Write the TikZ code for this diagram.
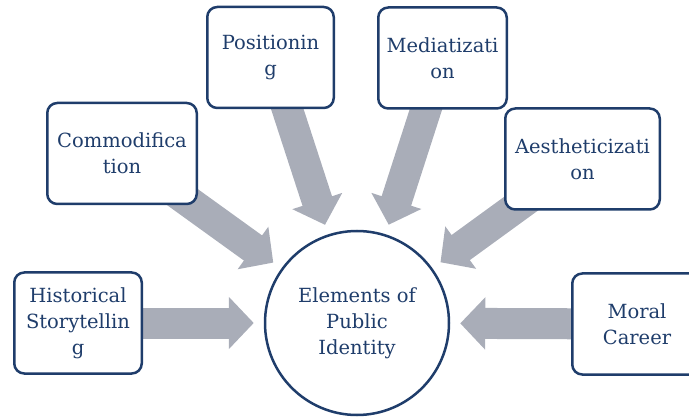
\documentclass[tikz,border=0pt]{standalone}
\usepackage{fontspec}
\setmainfont{DejaVu Serif}
\usetikzlibrary{arrows.meta,backgrounds}
\definecolor{navy}{HTML}{1F3D6B}
\definecolor{arrowgray}{HTML}{A9ADB8}
\begin{document}
\begin{tikzpicture}[x=1pt,y=-1pt,
  box/.style={draw=navy,line width=2.5pt,fill=white,rounded corners=10pt,
    minimum height=101pt,align=center,text=navy,inner sep=1pt,
    font=\fontsize{19.5}{26}\selectfont},
  hub/.style={draw=navy,line width=2.5pt,fill=white,circle,minimum size=184pt,
    inner sep=0pt,align=center,text=navy,font=\fontsize{19.5}{26}\selectfont},
  feed/.style={draw=arrowgray,line width=31pt,shorten >=10pt,
    -{Triangle[length=25pt,width=51pt]}}]
  \useasboundingbox (0,0) rectangle (689,417);
  \clip (0,0) rectangle (689,417);
  % centre and the six inputs
  \node[hub] (identity) at (357,323) {Elements of\\Public\\Identity};
  \node[box,minimum width=127.5pt] (history) at (78,323) {Historical\\Storytellin\\g};
  \node[box,minimum width=149.5pt] (commod) at (122,153.5) {Commodifica\\tion};
  \node[box,minimum width=126.5pt] (position) at (270.5,57.5) {Positionin\\g};
  \node[box,minimum width=128.5pt] (media) at (442.5,58) {Mediatizati\\on};
  \node[box,minimum width=154.5pt] (aesth) at (582.5,159) {Aestheticizati\\on};
  \node[box,minimum width=129.5pt] (moral) at (637,324) {Moral\\Career};
  % block arrows behind the boxes
  \begin{scope}[on background layer]
    \foreach \src in {history,commod,position,media,aesth,moral}
      \draw[feed] (\src.center) -- (identity);
  \end{scope}
\end{tikzpicture}
\end{document}
